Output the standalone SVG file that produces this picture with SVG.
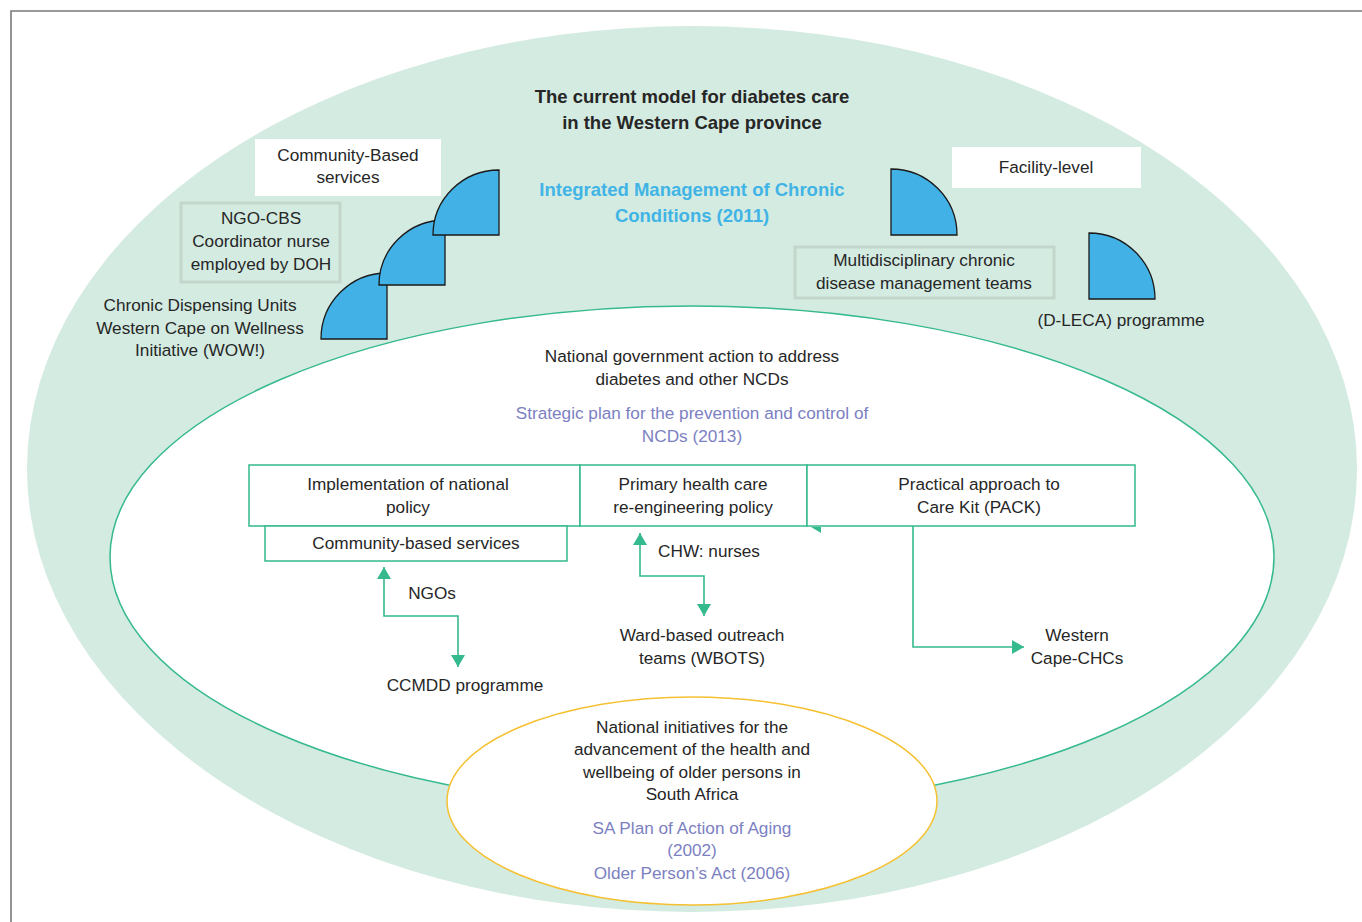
<svg xmlns="http://www.w3.org/2000/svg" width="1362" height="922" viewBox="0 0 1362 922">
<style>
.t{font-family:"Liberation Sans",Arial,sans-serif;font-size:17.2px;fill:#262626;text-anchor:middle}
.b{font-weight:bold;font-size:18.5px}
.blue{fill:#41b4e6}
.pur{fill:#7c7fc2}
.q{fill:#41b1e6;stroke:#1a1a1a;stroke-width:1.3}
.box{fill:#fff;stroke:#35b98e;stroke-width:1.5}
.gbox{fill:none;stroke:#c3d6cb;stroke-width:3}
.ln{fill:none;stroke:#35b98e;stroke-width:1.6}
</style>
<defs>
<marker id="ah" viewBox="0 0 12 14" refX="12" refY="7" markerWidth="12" markerHeight="14" markerUnits="userSpaceOnUse" orient="auto-start-reverse">
<path d="M0,0 L12,7 L0,14 Z" fill="#35b98e"/>
</marker>
</defs>
<rect width="1362" height="922" fill="#fff"/>
<path d="M11,922 V11 H1362" fill="none" stroke="#7a7a7a" stroke-width="1.6"/>
<g id="outer">
<ellipse cx="692" cy="469" rx="665" ry="443" fill="#d4ebe1"/>
<text class="t b" x="692" y="103">The current model for diabetes care</text>
<text class="t b" x="692" y="129">in the Western Cape province</text>
<text class="t b blue" x="692" y="196">Integrated Management of Chronic</text>
<text class="t b blue" x="692" y="222">Conditions (2011)</text>
</g>
<g id="community-based">
<rect x="255" y="139" width="186" height="57" fill="#fff"/>
<text class="t" x="348" y="161">Community-Based</text>
<text class="t" x="348" y="183">services</text>
</g>
<g id="ngo-cbs">
<rect class="gbox" x="181" y="203" width="159" height="79"/>
<text class="t" x="261" y="224">NGO-CBS</text>
<text class="t" x="261" y="247">Coordinator nurse</text>
<text class="t" x="261" y="270">employed by DOH</text>
</g>
<g id="steps">
<path class="q" d="M387,339 H321 A66,66 0 0 1 387,273 Z"/>
<path class="q" d="M445,285 H379 A66,65 0 0 1 445,220 Z"/>
<path class="q" d="M499,235 H433 A66,65 0 0 1 499,170 Z"/>
</g>
<g id="chronic-dispensing">
<text class="t" x="200" y="311">Chronic Dispensing Units</text>
<text class="t" x="200" y="334">Western Cape on Wellness</text>
<text class="t" x="200" y="356">Initiative (WOW!)</text>
</g>
<g id="facility-level">
<rect x="952" y="147" width="189" height="41" fill="#fff"/>
<text class="t" x="1046" y="173">Facility-level</text>
<path class="q" d="M891,235 V169 A66,66 0 0 1 957,235 Z"/>
</g>
<g id="multidisciplinary">
<rect class="gbox" x="795" y="247" width="259" height="51"/>
<text class="t" x="924" y="266">Multidisciplinary chronic</text>
<text class="t" x="924" y="289">disease management teams</text>
</g>
<g id="dleca">
<path class="q" d="M1089,299 V233 A66,66 0 0 1 1155,299 Z"/>
<text class="t" x="1121" y="326">(D-LECA) programme</text>
</g>
<g id="national">
<ellipse cx="692" cy="557" rx="582" ry="251" fill="#fff" stroke="#35b98e" stroke-width="1.5"/>
<text class="t" x="692" y="362">National government action to address</text>
<text class="t" x="692" y="385">diabetes and other NCDs</text>
<text class="t pur" x="692" y="419">Strategic plan for the prevention and control of</text>
<text class="t pur" x="692" y="442">NCDs (2013)</text>
</g>
<g id="implementation">
<rect class="box" x="249" y="465" width="331" height="61"/>
<text class="t" x="408" y="490">Implementation of national</text>
<text class="t" x="408" y="513">policy</text>
</g>
<g id="community-services">
<rect class="box" x="265" y="526" width="302" height="35"/>
<text class="t" x="416" y="549">Community-based services</text>
</g>
<g id="phc">
<rect class="box" x="580" y="465" width="227" height="61"/>
<text class="t" x="693" y="490">Primary health care</text>
<text class="t" x="693" y="513">re-engineering policy</text>
</g>
<g id="pack">
<rect class="box" x="807" y="465" width="328" height="61"/>
<text class="t" x="979" y="490">Practical approach to</text>
<text class="t" x="979" y="513">Care Kit (PACK)</text>
</g>
<g id="connectors">
<path class="ln" d="M384,567 V616 H458 V667" marker-start="url(#ah)" marker-end="url(#ah)"/>
<path class="ln" d="M640,533 V576 H704 V616" marker-start="url(#ah)" marker-end="url(#ah)"/>
<path class="ln" d="M913,526 V647 H1024" marker-end="url(#ah)"/>
<path d="M811,527 L821,527 L821,533 Z" fill="#35b98e"/>
</g>
<g id="labels">
<text class="t" x="432" y="599">NGOs</text>
<text class="t" x="465" y="691">CCMDD programme</text>
<text class="t" x="709" y="557">CHW: nurses</text>
<text class="t" x="702" y="641">Ward-based outreach</text>
<text class="t" x="702" y="664">teams (WBOTS)</text>
<text class="t" x="1077" y="641">Western</text>
<text class="t" x="1077" y="664">Cape-CHCs</text>
</g>
<g id="older-persons">
<ellipse cx="692" cy="801" rx="245" ry="104" fill="#fff" stroke="#f5c132" stroke-width="1.5"/>
<text class="t" x="692" y="733">National initiatives for the</text>
<text class="t" x="692" y="755">advancement of the health and</text>
<text class="t" x="692" y="778">wellbeing of older persons in</text>
<text class="t" x="692" y="800">South Africa</text>
<text class="t pur" x="692" y="834">SA Plan of Action of Aging</text>
<text class="t pur" x="692" y="856">(2002)</text>
<text class="t pur" x="692" y="879">Older Person’s Act (2006)</text>
</g>
</svg>
